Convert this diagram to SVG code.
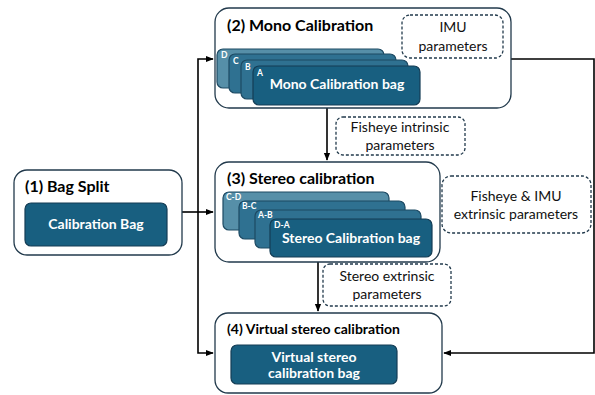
<svg xmlns="http://www.w3.org/2000/svg" width="595" height="395" viewBox="0 0 595 395">
<defs>
<marker id="ah" viewBox="0 0 10 10" refX="9" refY="5" markerWidth="5" markerHeight="5" orient="auto"><path d="M0,1 L10,5 L0,9 z" fill="#000"/></marker>
<style>
.cont{fill:#fff;stroke:#223a4c;stroke-width:1.3}
.bag{fill:#185f80;stroke:#143d55;stroke-width:1.2}
.bagb{fill:#4d89a3;stroke:#1d4a63;stroke-width:1.2;fill-opacity:0.95}
.bagm{fill:#2f7191;stroke:#1d4a63;stroke-width:1.2}
.dash{fill:#fff;stroke:#223a4c;stroke-width:1.3;stroke-dasharray:3,2}
.title{font-family:Lato,"Open Sans",sans-serif;font-weight:bold;fill:#000}
.bt{font-family:Lato,"Open Sans",sans-serif;font-weight:bold;fill:#fff;font-size:14px;text-anchor:middle}
.sm{font-family:Lato,"Open Sans",sans-serif;font-weight:bold;fill:#fff;font-size:8.5px}
.pt{font-family:Lato,"Open Sans",sans-serif;fill:#111;font-size:14px;text-anchor:middle}
.ln{fill:none;stroke:#000;stroke-width:1.6}
</style>
</defs>
<g id="connectors">
<path class="ln" d="M182,212 H213" marker-end="url(#ah)"/>
<path class="ln" d="M198,212 V59 H213" marker-end="url(#ah)"/>
<path class="ln" d="M198,212 V353 H213" marker-end="url(#ah)"/>
<path class="ln" d="M327,108 V160" marker-end="url(#ah)"/>
<path class="ln" d="M318,262 V311" marker-end="url(#ah)"/>
<path class="ln" d="M511,59 H594 V353 H444" marker-end="url(#ah)"/>
</g>
<g id="bag-split">
<rect class="cont" x="14" y="170" width="168" height="85" rx="13"/>
<text class="title" x="25" y="192" font-size="16">(1) Bag Split</text>
<rect class="bag" x="25" y="203" width="142" height="43" rx="6"/>
<text class="bt" x="96" y="229">Calibration Bag</text>
</g>
<g id="mono-calibration">
<rect class="cont" x="215" y="8" width="296" height="100" rx="14"/>
<text class="title" x="227" y="31" font-size="16">(2) Mono Calibration</text>
<rect class="bagb" x="217" y="49" width="167" height="39" rx="6"/>
<text class="sm" x="221" y="58">D</text>
<rect class="bagm" x="229" y="54" width="167" height="39" rx="6"/>
<text class="sm" x="233" y="64">C</text>
<rect class="bagm" x="241" y="60" width="167" height="39" rx="6"/>
<text class="sm" x="245" y="70">B</text>
<rect class="bag" x="253" y="66" width="167" height="39" rx="6"/>
<text class="sm" x="257" y="76">A</text>
<text class="bt" x="337" y="89">Mono Calibration bag</text>
</g>
<g id="imu-parameters">
<rect class="dash" x="402" y="15" width="101" height="43" rx="8"/>
<text class="pt" x="453" y="32">IMU</text>
<text class="pt" x="453" y="51">parameters</text>
</g>
<g id="fisheye-intrinsic">
<rect class="dash" x="336" y="117" width="129" height="38" rx="7"/>
<text class="pt" x="400" y="132">Fisheye intrinsic</text>
<text class="pt" x="400" y="150">parameters</text>
</g>
<g id="stereo-calibration">
<rect class="cont" x="215" y="162" width="225" height="100" rx="14"/>
<text class="title" x="227" y="184" font-size="16">(3) Stereo calibration</text>
<rect class="bagb" x="223" y="192" width="166" height="38" rx="6"/>
<text class="sm" x="226" y="200">C-D</text>
<rect class="bagm" x="239" y="201" width="166" height="38" rx="6"/>
<text class="sm" x="242" y="209">B-C</text>
<rect class="bagm" x="255" y="210" width="166" height="38" rx="6"/>
<text class="sm" x="258" y="218">A-B</text>
<rect class="bag" x="270" y="219" width="162" height="38" rx="6"/>
<text class="sm" x="274" y="228">D-A</text>
<text class="bt" x="351" y="243">Stereo Calibration bag</text>
</g>
<g id="fisheye-imu-extrinsic">
<rect class="dash" x="442" y="176" width="149" height="57" rx="9"/>
<text class="pt" x="516" y="201">Fisheye &amp; IMU</text>
<text class="pt" x="516" y="219">extrinsic parameters</text>
</g>
<g id="stereo-extrinsic">
<rect class="dash" x="323" y="264" width="128" height="42" rx="7"/>
<text class="pt" x="387" y="281">Stereo extrinsic</text>
<text class="pt" x="387" y="299">parameters</text>
</g>
<g id="virtual-stereo-calibration">
<rect class="cont" x="215" y="313" width="227" height="80" rx="13"/>
<text class="title" x="227" y="334" font-size="14">(4) Virtual stereo calibration</text>
<rect class="bag" x="231" y="345" width="166" height="39" rx="6"/>
<text class="bt" x="314" y="362">Virtual stereo</text>
<text class="bt" x="314" y="378">calibration bag</text>
</g>
</svg>
